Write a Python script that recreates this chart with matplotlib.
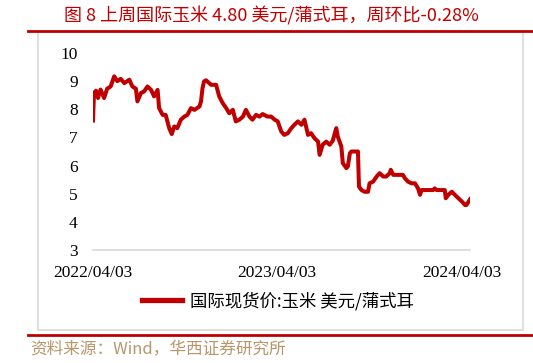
import matplotlib
matplotlib.use("Agg")
import matplotlib.pyplot as plt
import matplotlib.dates as mdates
import pandas as pd
from matplotlib.lines import Line2D
from matplotlib.patches import Rectangle

RED = "#C00000"
CJK = ["Noto Sans CJK SC", "DejaVu Sans"]
SERIF = ["Liberation Serif", "DejaVu Serif"]

# weekly-ish readings of the corn spot price, USD/bushel
dates = [
    "2022-04-03", "2022-04-05", "2022-04-09", "2022-04-13", "2022-04-18", "2022-04-25",
    "2022-05-01", "2022-05-08", "2022-05-15", "2022-05-21", "2022-05-28", "2022-06-04",
    "2022-06-14", "2022-06-20", "2022-06-27", "2022-06-30", "2022-07-07", "2022-07-13",
    "2022-07-20", "2022-07-27", "2022-08-02", "2022-08-09", "2022-08-12", "2022-08-19",
    "2022-08-25", "2022-09-01", "2022-09-06", "2022-09-11", "2022-09-17", "2022-09-24",
    "2022-10-01", "2022-10-07", "2022-10-14", "2022-10-21", "2022-10-31", "2022-11-03",
    "2022-11-06", "2022-11-09", "2022-11-13", "2022-11-23", "2022-12-03", "2022-12-09",
    "2022-12-16", "2022-12-23", "2022-12-29", "2023-01-05", "2023-01-11", "2023-01-18",
    "2023-01-25", "2023-01-31", "2023-02-07", "2023-02-13", "2023-02-20", "2023-02-27",
    "2023-03-05", "2023-03-15", "2023-03-22", "2023-03-29", "2023-04-04", "2023-04-11",
    "2023-04-17", "2023-04-24", "2023-05-01", "2023-05-07", "2023-05-14", "2023-05-21",
    "2023-05-27", "2023-06-03", "2023-06-09", "2023-06-16", "2023-06-23", "2023-06-26",
    "2023-07-02", "2023-07-09", "2023-07-16", "2023-07-22", "2023-07-29", "2023-08-01",
    "2023-08-08", "2023-08-11", "2023-08-18", "2023-08-21", "2023-08-25", "2023-08-28",
    "2023-09-10", "2023-09-12", "2023-09-17", "2023-09-23", "2023-09-30", "2023-10-03",
    "2023-10-10", "2023-10-17", "2023-10-23", "2023-10-30", "2023-11-05", "2023-11-12",
    "2023-11-14", "2023-11-19", "2023-12-08", "2023-12-12", "2023-12-18", "2023-12-25",
    "2024-01-01", "2024-01-07", "2024-01-11", "2024-01-14", "2024-02-06", "2024-02-09",
    "2024-02-13", "2024-02-29", "2024-03-02", "2024-03-07", "2024-03-14", "2024-03-20",
    "2024-03-27", "2024-04-03", "2024-04-09", "2024-04-12", "2024-04-19",
]
prices = [
    7.60, 8.58, 8.66, 8.40, 8.70, 8.40,
    8.73, 8.81, 9.17, 9.00, 9.08, 8.93,
    9.05, 8.81, 8.73, 8.28, 8.58, 8.63,
    8.81, 8.69, 8.46, 8.69, 8.04, 7.80,
    7.80, 7.33, 7.12, 7.39, 7.33, 7.63,
    7.74, 7.80, 8.04, 7.98, 8.10, 8.28,
    8.75, 8.99, 9.03, 8.87, 8.87, 8.46,
    8.22, 8.04, 7.86, 7.98, 7.57, 7.63,
    7.74, 7.98, 7.74, 7.63, 7.80, 7.74,
    7.83, 7.74, 7.74, 7.63, 7.57, 7.21,
    7.09, 7.15, 7.33, 7.45, 7.57, 7.45,
    7.63, 7.09, 7.15, 6.97, 6.85, 6.38,
    6.74, 6.85, 6.74, 6.88, 7.33, 7.03,
    6.68, 6.09, 5.91, 5.97, 6.44, 6.50,
    6.50, 5.25, 5.13, 5.07, 5.07, 5.37,
    5.43, 5.61, 5.73, 5.61, 5.61, 5.73,
    5.85, 5.67, 5.67, 5.55, 5.43, 5.37,
    5.37, 5.19, 4.96, 5.13, 5.13, 5.19,
    5.13, 5.13, 4.84, 4.96, 5.07, 4.96,
    4.84, 4.72, 4.60, 4.60, 4.80,
]
tick_dates = ["2022-04-03", "2023-04-03", "2024-04-03"]
tick_labels = ["2022/04/03", "2023/04/03", "2024/04/03"]

title = "图 8 上周国际玉米 4.80 美元/蒲式耳，周环比-0.28%"
series_name = "国际现货价:玉米 美元/蒲式耳"
source = "资料来源：Wind，华西证券研究所"

W, H = 533, 363
fig = plt.figure(figsize=(W / 100, H / 100), dpi=100)

# frame of the chart block and the two red rules
fig.patches.append(Rectangle((38 / W, 1 - 330 / H), 485 / W, 299 / H,
                             transform=fig.transFigure, fill=False,
                             edgecolor="#D9D9D9", linewidth=1.2))
fig.add_artist(Line2D([28 / W, 1], [1 - 31 / H] * 2, color=RED, linewidth=2))
fig.add_artist(Line2D([28 / W, 1], [1 - 334.5 / H] * 2, color=RED, linewidth=2))

fig.text(271 / W, 1 - 16 / H, title, color=RED, fontsize=13, family=CJK,
         ha="center", va="center")
fig.text(30 / W, 1 - 349 / H, source, color="#B8956A", fontsize=12, family=CJK,
         ha="left", va="center")

ax = fig.add_axes([93 / W, 1 - 250 / H, (470 - 93) / W, (250 - 53) / H])
x = pd.to_datetime(dates)
line, = ax.plot(x, prices, color=RED, linewidth=2.9, solid_joinstyle="round")

ax.set_ylim(3, 10)
ax.set_yticks(range(3, 11))
ax.set_xlim(x[0], x[-1])
ax.set_xticks(pd.to_datetime(tick_dates))
ax.xaxis.set_major_formatter(mdates.DateFormatter("%Y/%m/%d"))

for s in ["top", "right", "left"]:
    ax.spines[s].set_visible(False)
ax.spines["bottom"].set_color("#D9D9D9")
ax.spines["bottom"].set_linewidth(1.2)
ax.tick_params(axis="both", length=0, labelsize=12.5)
ax.tick_params(axis="y", pad=11)
ax.tick_params(axis="x", pad=11)
for lab in ax.get_xticklabels() + ax.get_yticklabels():
    lab.set_family(SERIF)

fig.legend([line], [series_name], loc="center", bbox_to_anchor=(278 / W, 1 - 301 / H),
           frameon=False, handlelength=2.3, handletextpad=0.45,
           prop={"family": CJK, "size": 12.5})
for h in fig.legends[0].legend_handles:
    h.set_linewidth(3.8)

fig.savefig("out.png", dpi=100)
